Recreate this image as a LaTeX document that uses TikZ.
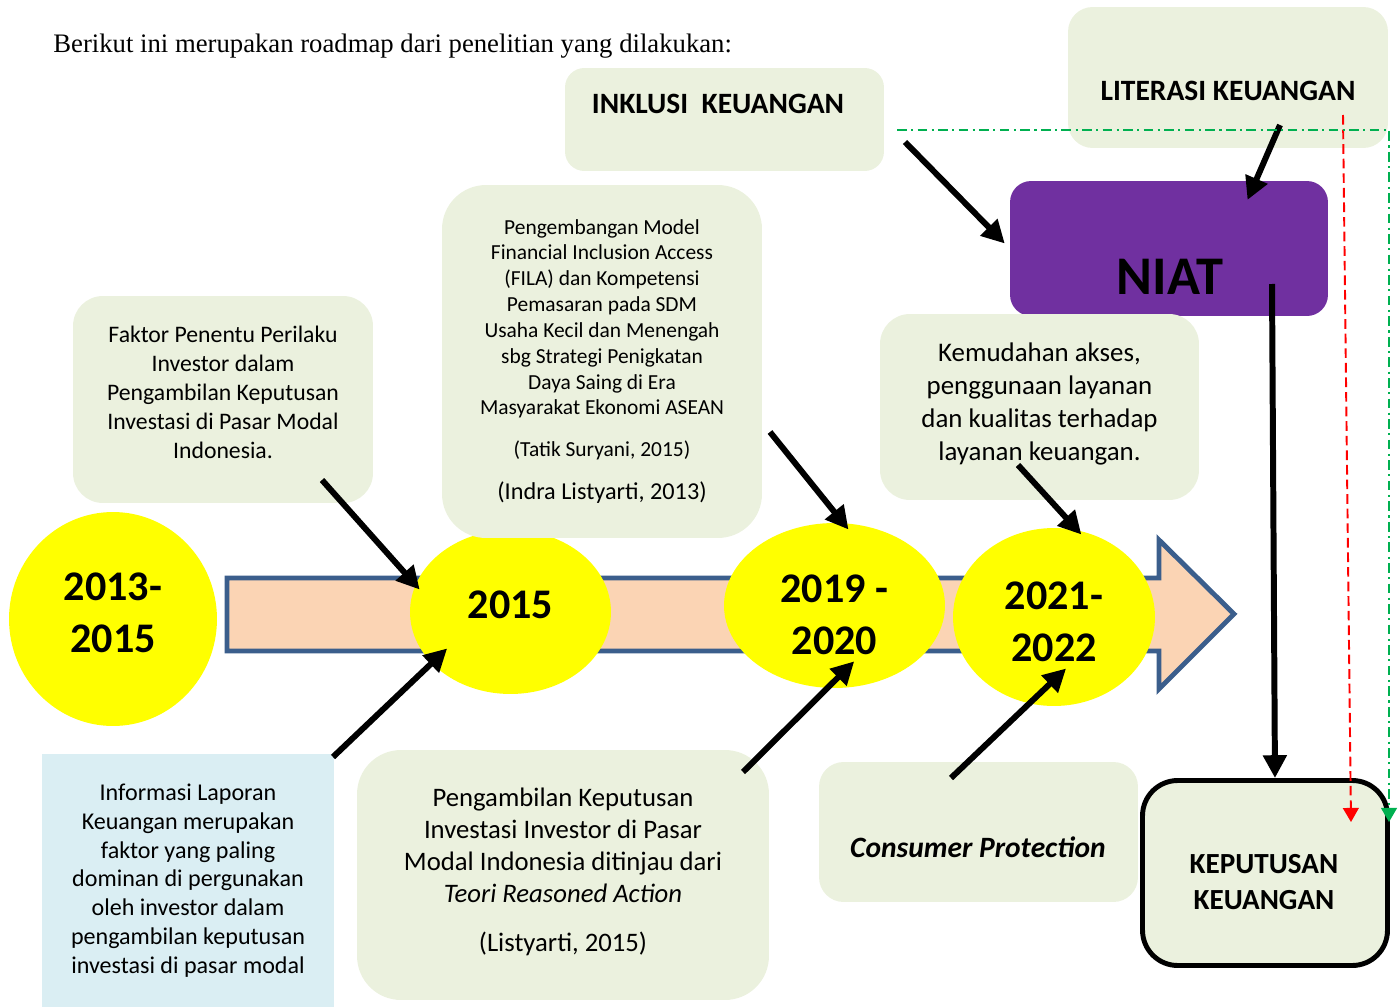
\documentclass[tikz,border=0pt]{standalone}
\usepackage{fontspec}
\setmainfont{Carlito}
\newfontfamily\introfont{Liberation Serif}
\usetikzlibrary{arrows.meta}
\usetikzlibrary{shapes.geometric}

\definecolor{cardfill}{HTML}{EBF1DE}
\definecolor{infofill}{HTML}{DAEEF3}
\definecolor{niatfill}{HTML}{7030A0}
\definecolor{bandfill}{HTML}{FBD4B4}
\definecolor{bandline}{HTML}{3B5E8C}
\definecolor{linkgreen}{HTML}{00B050}
\definecolor{ballfill}{HTML}{FFFF00}

\tikzset{
 card/.style={rectangle, rounded corners=#1, fill=cardfill, inner sep=0pt, align=center},
 card/.default=17pt,
 yearball/.style={ellipse, fill=ballfill, inner sep=0pt},
 yeartext/.style={align=center, font=\fontsize{24}{29.5}\selectfont\bfseries},
 headline/.style={font=\fontsize{16.8}{20}\selectfont\bfseries},
 push/.style={line width=3.4pt, -{Triangle[length=13pt,width=13pt]}},
 smalltip/.style={line width=1.1pt, -{Triangle[length=8pt,width=9pt]}},
}

\begin{document}
\begin{tikzpicture}[x=0.02cm, y=-0.02cm]
\useasboundingbox (0,0) rectangle (1400,1007);

\node[anchor=west, inner sep=0pt, font=\introfont\fontsize{15.2}{18}\selectfont] (intro) at (53,46)
 {Berikut ini merupakan roadmap dari penelitian yang dilakukan:};

\draw[bandline, fill=bandfill, line width=2.8pt] (227,578) -- (1159,578) -- (1159,540) -- (1234,614)
 -- (1159,689) -- (1159,651) -- (227,651) -- cycle;

\node[yearball, minimum width=4.16cm, minimum height=4.28cm] (y2013) at (113,619) {};
\node[yearball, minimum width=4.02cm, minimum height=3.28cm] (y2015) at (510.5,612) {};
\node[yearball, minimum width=4.42cm, minimum height=3.3cm] (y2019) at (834.5,605.5) {};
\node[yearball, minimum width=4.04cm, minimum height=3.56cm] (y2021) at (1054,617) {};
\node[yeartext] (y2013 text) at (113,613) {2013-\\2015};
\node[yeartext] (y2015 text) at (510.5,605) {2015};
\node[yeartext] (y2019 text) at (834.5,614.5) {2019 -\\2020};
\node[yeartext] (y2021 text) at (1054,622) {2021-\\2022};

\node[card, minimum width=6cm, minimum height=4.14cm] (faktor) at (223,399.5) {};
\node[align=center, font=\fontsize{13.5}{16.6}\selectfont] (faktor text) at (223,392.5)
 {Faktor Penentu Perilaku\\Investor dalam\\Pengambilan Keputusan\\Investasi di Pasar Modal\\Indonesia.};
\node[card=25pt, minimum width=6.4cm, minimum height=7.06cm, font=\fontsize{12.2}{14.7}\selectfont] (fila) at (602,361.5)
 {Pengembangan Model\\Financial Inclusion Access\\(FILA) dan Kompetensi\\Pemasaran pada SDM\\Usaha Kecil dan Menengah\\sbg Strategi Penigkatan\\Daya Saing di Era\\Masyarakat Ekonomi ASEAN\\[9pt]
 (Tatik Suryani, 2015)\\[10pt]{\fontsize{13.8}{16}\selectfont(Indra Listyarti, 2013)}};
\node[card=11pt, minimum width=6.38cm, minimum height=2.06cm] (inklusi) at (724.5,119.5) {};
\node[card=14pt, minimum width=6.4cm, minimum height=2.82cm] (literasi) at (1228,77.5) {};
\node[card=12pt, fill=niatfill, minimum width=6.36cm, minimum height=2.7cm] (niat) at (1169,248.5) {};
\node[card, minimum width=6.38cm, minimum height=3.72cm] (akses) at (1039.5,407) {};
\node[align=center, font=\fontsize{15.3}{18.7}\selectfont] (akses text) at (1039.5,404)
 {Kemudahan akses,\\penggunaan layanan\\dan kualitas terhadap\\layanan keuangan.};
\node[rectangle, fill=infofill, inner sep=0pt, align=center, minimum width=5.84cm, minimum height=5.06cm,
 font=\fontsize{13.7}{16.4}\selectfont] (info) at (188,880.5)
 {Informasi Laporan\\Keuangan merupakan\\faktor yang paling\\dominan di pergunakan\\oleh investor dalam\\pengambilan keputusan\\investasi di pasar modal};
\node[card=25pt, minimum width=8.24cm, minimum height=5cm] (tra) at (563,875) {};
\node[align=center, font=\fontsize{15.2}{18.3}\selectfont] (tra text) at (563,872)
 {Pengambilan Keputusan\\Investasi Investor di Pasar\\Modal Indonesia ditinjau dari\\\textit{Teori Reasoned Action}\\[9.6pt](Listyarti, 2015)};
\node[card=14pt, minimum width=6.38cm, minimum height=2.8cm] (protect) at (978.5,832) {};
\node[card=20pt, draw=black, line width=2.8pt, minimum width=4.9cm, minimum height=3.7cm] (kep) at (1265,873) {};

\node[headline] (inklusi text) at (718,104) {INKLUSI\ \ KEUANGAN};
\node[headline] (literasi text) at (1228,91) {LITERASI KEUANGAN};
\node[font=\fontsize{31}{36}\selectfont\bfseries] (niat text) at (1170,277) {NIAT};
\node[font=\fontsize{16.8}{20}\selectfont\bfseries\itshape] (protect text) at (978,847) {Consumer Protection};
\node[align=center, font=\fontsize{16.6}{21}\selectfont\bfseries] (kep text) at (1264,882) {KEPUTUSAN\\KEUANGAN};

\coordinate (t1) at (322,480);
\coordinate (t2) at (333,757);
\coordinate (t3) at (770,432);
\coordinate (t4) at (743,772);
\coordinate (t5) at (1018,465);
\coordinate (t6) at (951,778);
\coordinate (t7) at (905,142);
\coordinate (t8) at (1280,125);
\coordinate (t9) at (1272,284);
\draw[push, shorten >=-0.13cm] (t1) -- (y2015.164);
\draw[push, shorten >=-0.43cm] (t2) -- (y2015.213);
\draw[push, shorten >=-0.17cm] (t3) -- (y2019.84);
\draw[push, shorten >=-0.76cm] (t4) -- (y2019.265);
\draw[push, shorten >=-0.12cm] (t5) -- (y2021.75);
\draw[push, shorten >=-1.02cm] (t6) -- (y2021.254);
\draw[push, shorten >=0.14cm] (t7) -- (niat.west);
\draw[push, shorten >=-0.42cm] (t8) -- (niat.38.5);
\draw[push] (t9) -- (kep.84);

\coordinate (red top) at (1343,115);
\coordinate (red end) at (1351,822);
\coordinate (green start) at (897,130);
\coordinate (green corner) at (1389,130);
\coordinate (green end) at (1389,822);
\draw[smalltip, red, dash pattern=on 5.5pt off 2.8pt] (red top) -- (red end);
\draw[smalltip, linkgreen, dash pattern=on 5.5pt off 2.5pt on 1.2pt off 2.5pt] (green start) -- (green corner) -- (green end);
\end{tikzpicture}
\end{document}
